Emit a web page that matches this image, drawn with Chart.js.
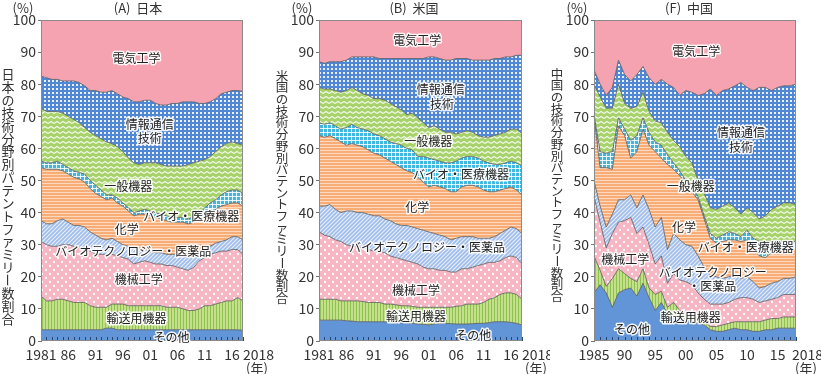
<!DOCTYPE html>
<html><head><meta charset="utf-8">
<script src="https://cdn.jsdelivr.net/npm/chart.js@4"></script>
<style>
html,body{margin:0;padding:0;background:#fff;}
#wrap{position:relative;width:821px;height:374px;overflow:hidden;}
canvas{position:absolute;top:0;}
</style></head><body>
<div id="wrap">
<canvas id="cA" width="275" height="374" style="left:0"></canvas>
<canvas id="cB" width="275" height="374" style="left:275px"></canvas>
<canvas id="cF" width="271" height="374" style="left:550px"></canvas>
</div>
<script>
const FONT = '"Noto Sans CJK JP", "Noto Sans", sans-serif';
const seriesNames = ['その他','輸送用機器','機械工学','バイオテクノロジー・医薬品','化学','バイオ・医療機器','一般機器','情報通信技術','電気工学'];

// ---- (A) Japan 1981-2018 ----
const yearsJP = [1981,1982,1983,1984,1985,1986,1987,1988,1989,1990,1991,1992,1993,1994,1995,1996,1997,1998,1999,2000,2001,2002,2003,2004,2005,2006,2007,2008,2009,2010,2011,2012,2013,2014,2015,2016,2017,2018];
const jpOther     = [3.5,3.5,3.5,3.5,3.5,3.5,3.5,3.5,3.5,3.5,3.5,3.5,4,4,3.5,3.5,3.5,3.5,3.5,3.5,3.5,3.5,3.5,3.5,3.5,3.5,3.5,3.5,3.5,3.5,3.5,3.5,3.5,3.5,3.5,3.5,3.5,3.3];
const jpTransport = [10.5,9,9,9.5,9.5,9,8.5,8.5,8.5,7.5,7,7,6.5,7.5,8,8,7.5,7.5,7.5,7.5,7.5,7.5,7.5,7,7,7,6.5,6,6,6.5,7.5,7.5,8,8.5,9,9,10,9.2];
const jpMech      = [17,17.5,17,16.5,17,17.5,17.5,17,17,17,16.5,16.5,16.5,15.5,15,14.5,14.5,13,13.5,14,13.5,13,13,13,13,12.5,12.5,12.5,13.5,15,15,16,16,16,15.5,16,15,14.5];
const jpBiotech   = [6.5,6.5,7,8,8,7,6.5,7,6.5,6,6,5,4.5,5,4.5,4,4,5,4,3.5,3.5,3.5,3.5,3.5,3.5,4,4,4,4,3,3,2.5,3,3,3.5,4,4,4.5];
const jpChem      = [16.5,17,17,16,15,15,15,14.5,14,13.5,13,13,12.5,12.5,12,12,11,10,11,11,11,11,10.5,10.5,10,10,10.5,10.5,10,10,10,10.5,10.5,11,11,10.5,10.5,10.5];
const jpMedDev    = [2,2,2,2.5,2,2,2,2,2.5,2.5,2.5,2,1.5,1,1.5,1,1,1,1,1.5,1.5,1.5,1.5,1.5,1.5,1.5,1.5,1.5,2,2,2.5,3,3,3.5,4,4,4,4];
const jpGenMach   = [16.5,16,16,15.5,16,16,16,15.5,14.5,15,15.5,16,16.5,16,16,16,15.5,15.5,14.5,14.5,15,15.5,15.5,15.5,16,16,16,17,16.5,16,15,14.5,15,15,15,15,14.5,15];
const jpICT       = [10,10.5,10,10,10,11,12,12.5,13,13,14,14.5,15.5,16.5,16.5,17,18.5,19,19.5,19.5,19.5,18.5,18.5,19,19.5,19.5,20,19.5,19,18,17.5,17,16.5,16.5,16,16,16.5,16.8];
const jpElec      = [17.5,18,18.5,18.5,19,19,19,19.5,20.5,22,22,22.5,22.5,22,23,24,24.5,25.5,25.5,25,25,26,26.5,26.5,26,26,25.5,25.5,25.5,26,26,25.5,24.5,23,22.5,22,22,22.2];

// ---- (B) USA 1981-2018 ----
const yearsUS = [1981,1982,1983,1984,1985,1986,1987,1988,1989,1990,1991,1992,1993,1994,1995,1996,1997,1998,1999,2000,2001,2002,2003,2004,2005,2006,2007,2008,2009,2010,2011,2012,2013,2014,2015,2016,2017,2018];
const usOther     = [6.5,6.5,6.5,6.5,6.5,6.3,6.2,6,6,6,6,6,6,5.8,5.8,5.7,5.6,5.5,5.3,5.2,5,5.3,5.5,5.5,5.4,5.3,5.3,5.3,5.4,5.5,5.5,5.7,6,6,6,5.8,5.5,5];
const usTransport = [6.5,6.5,6.5,6.5,6,6.2,6.3,6.5,6.3,6,6,6,5.5,5.7,5.5,5.3,5.4,5.3,5.2,5.3,5.5,5.2,5,5,5.1,5.5,5.7,6.2,6.1,6,6.5,7.3,7.5,8.5,9,9.2,9,8];
const usMech      = [21,20,19.5,18.5,18.5,17.5,17,17,16.7,16.5,16,16,16,15,14.7,14.5,14,13.7,13.5,12.5,12,12,11.5,11.5,11,10.7,11.5,11,11.5,12,12,11.5,11,10.5,11,11.5,11.5,11];
const usBiotech   = [8,9,10,9.5,9,10.5,11,10.5,11,11,11,11,10.5,11,10.5,10.5,11,11,11,11.5,11.5,11,11,10.5,10,10.5,10,10,9.5,8.5,8,7.5,8,8.5,8.5,9,9,9.5];
const usChem      = [22,21.5,21.5,22,22,20.5,21,21,20.5,20,19.5,19,19,18.5,18.5,18,17,17,16,15,14,15,15,15,15,14.5,15.5,16,16,16,15,14.5,14,13.5,13,12.5,12,12];
const usMedDev    = [4,4,4,4,4,5.5,6,5.5,5.5,6,6,6,6,6,6.5,7,7,7,6.5,8,9,8,8,8,9,9.5,9,9,9,9,9,9,8.5,8,8,8,8.5,9];
const usGenMach   = [11,11,10.5,11,11.5,11.5,11.5,11.5,11,11,11,11.5,12,12,11.5,11,10.5,11.5,12,10.5,9.5,10.5,10,9.5,9.5,8.5,8,8,7.5,7,7.5,8,9,9.5,9.5,10,10.5,10];
const usICT       = [8,8,8.5,9,9.5,9.5,9.5,10.5,11.5,12,13,12.5,13,14,15,16,17.5,17,18.5,20,22,21.5,22,22.5,22.5,23.5,23,22.5,22.5,23.5,24,24,24,23.5,23.5,22.5,23,24.5];
const usElec      = [13,13.5,13,13,13,12.5,11.5,11.5,11.5,11.5,11.5,12,12,12,12,12,12,12,12,12,11.5,11.5,12,12.5,12.5,12,12,12,12.5,12.5,12.5,12.5,12,12,11.5,11.5,11,11];

// ---- (F) China 1985-2018 ----
const yearsCN = [1985,1986,1987,1988,1989,1990,1991,1992,1993,1994,1995,1996,1997,1998,1999,2000,2001,2002,2003,2004,2005,2006,2007,2008,2009,2010,2011,2012,2013,2014,2015,2016,2017,2018];
const cnOther     = [15,17.5,15,10.5,15,16,16.5,14,18,13.5,9.5,12,8.5,7.5,7,6.5,6,5.5,5,3.5,3,3,3.5,4,3.5,3.5,3,3,3.5,3.5,4,4,4,4];
const cnTransport = [11.5,4.5,2,9,7.5,5,3,4.5,4.5,3,5,3.5,2,4.5,2.5,1.5,1.5,1.5,1,1,1.5,2,2,2,2.5,2.5,3,3,3,3.5,3,3.5,3.5,3.5];
const cnMech      = [18.5,15,12,14,14.5,16.5,19,15,13,13.5,9.5,11,7.5,9,9.5,10.5,10,8,7,7,7,6.5,6.5,7,7.5,7.5,7,6,6,6,6.5,7,7,7];
const cnBiotech   = [5,5,6.5,6,7,6.5,7,8,10,11,11.5,12,10.5,12.5,12.5,11.5,12,11.5,10,9,8.5,8,8,7.5,6,6.5,5.5,4.5,4.5,5,5,5,5,5.5];
const cnChem      = [20,12,18.5,14,23,20,11.5,17.5,20.5,20,23.5,18.5,26.5,20,20,19,17,17.5,15,11.5,10.5,11.5,11.5,11,11.5,11.5,10.5,10,9,9.5,9.5,9,9,8.5];
const cnMedDev    = [0.5,5,4.5,5.5,2.5,2,5.5,5,3.5,4,3,4,3,2,1.5,1,1.5,1,1,1.5,1.5,2,2.5,2,1.5,3,3,4.5,5,3.5,3,2.5,2.5,2.5];
const cnGenMach   = [9.5,17,14,13.5,10.5,8,10,9,8,6.5,6.5,7,7,7,7.5,7.5,7.5,5,7,8,9,9,9,8,7,7,8,7,8,10,11,12,12,11.5];
const cnICT       = [4.5,4,4,6.5,7.5,9,8.5,10,8,10.5,11.5,13.5,15,16.5,16,20.5,22,26.5,31,37,35.5,36,35.5,38,41,37.5,38,41,40,37,37,36.5,36.5,37.5];
const cnElec      = [15.5,20,23.5,21,12.5,17,19,17,14.5,18,20,18.5,20,21,23.5,22,22.5,23.5,23,21.5,23.5,22,21.5,20.5,19.5,21,22,21,21,22,21,20.5,20.5,20];

// ---- tick labels ----
const tickYearsJP  = [1981,1986,1991,1996,2001,2006,2011,2016,2018];
const tickLabelsJP = ['1981','86','91','96','01','06','11','16','2018'];
const tickYearsCN  = [1985,1990,1995,2000,2005,2010,2015,2018];
const tickLabelsCN = ['1985','90','95','00','05','10','15','2018'];

// ---- in-chart label anchors [text, year, value] ----
const labelsJP = [['電気工学',1998.5,87.9],['情報通信',2000.9,67.6],['技術',2000.9,63.2],['一般機器',1997.0,48.3],['バイオ・医療機器',2008.5,38.9],['化学',1996.7,34.9],['バイオテクノロジー・医薬品',1997.9,28.0],['機械工学',1998.9,19.3],['輸送用機器',1998.5,6.9],['その他',2004.9,1.2]];
const labelsUS = [['電気工学',1998.9,93.5],['情報通信',2003.2,78.5],['技術',2003.4,73.8],['一般機器',2000.9,62.3],['バイオ・医療機器',2006.9,52.0],['化学',1998.9,41.7],['バイオテクノロジー・医薬品',2000.7,29.0],['機械工学',1998.7,15.6],['輸送用機器',1998.7,7.8],['その他',2009.1,1.6]];
const labelsCN = [['電気工学',2001.7,90.3],['情報通信',2009.0,65.1],['技術',2009.0,60.4],['一般機器',2000.8,48.3],['化学',1999.7,35.5],['バイオ・医療機器',2009.8,29.3],['機械工学',1990.1,25.5],['バイオテクノロジー',2004.4,21.5],['・医薬品',2004.3,17.1],['輸送用機器',2000.8,7.2],['その他',1991.2,3.7]];

// ---- fills (patterns) ----
function tile(w,h,bg,fn){
  const c=document.createElement('canvas'); c.width=w; c.height=h;
  const g=c.getContext('2d'); g.fillStyle=bg; g.fillRect(0,0,w,h); if(fn) fn(g);
  return document.createElement('canvas').getContext('2d').createPattern(c,'repeat');
}
const fills = [
  '#6295d7',
  tile(3,2,'#c3e08a',g=>{g.fillStyle='#90c050';g.fillRect(0,0,1,2);}),
  tile(8,8,'#f7b6c3',g=>{g.fillStyle='#ffffff';[[2,2],[6,6]].forEach(([a,b])=>{g.beginPath();g.arc(a,b,1.15,0,7);g.fill();});}),
  tile(4,4,'#a0bdeb',g=>{g.strokeStyle='#e8effb';g.lineWidth=1.1;g.beginPath();g.moveTo(-1,5);g.lineTo(5,-1);g.moveTo(-1,1);g.lineTo(1,-1);g.moveTo(3,5);g.lineTo(5,3);g.stroke();}),
  tile(2,3,'#f8ad77',g=>{g.fillStyle='#fcd8be';g.fillRect(0,0,2,1);}),
  tile(4,4,'#43b6dd',g=>{g.fillStyle='rgba(255,255,255,0.85)';g.fillRect(0,0,4,1);g.fillRect(0,0,1,4);}),
  tile(6,5,'#a7d26b',g=>{g.strokeStyle='#f2f9e8';g.lineWidth=1.1;g.beginPath();g.moveTo(0,3.5);g.lineTo(3,1.5);g.lineTo(6,3.5);g.stroke();}),
  tile(4,4,'#5088d5',g=>{g.fillStyle='#eaf1fb';g.fillRect(0,0,2,2);}),
  '#f5a3b0'
];

function halo(ctx,t,x,y){
  ctx.lineJoin='round'; ctx.lineWidth=3; ctx.strokeStyle='rgba(255,255,255,0.9)';
  ctx.strokeText(t,x,y); ctx.fillStyle='#222'; ctx.fillText(t,x,y);
}
function vText(ctx,t,x,y0,step,size){
  ctx.font=size+'px '+FONT; ctx.fillStyle='#333'; ctx.textAlign='center'; ctx.textBaseline='middle';
  [...t].forEach((ch,i)=>{
    const cy=y0+step*(i+0.5);
    if(ch==='ー'){ctx.save();ctx.translate(x,cy);ctx.rotate(Math.PI/2);ctx.fillText(ch,0,0);ctx.restore();}
    else ctx.fillText(ch,x,cy);
  });
}

function makeDeco(cfg){
  return {id:'deco', afterDraw(chart){
    const ctx=chart.ctx, a=chart.chartArea, xs=chart.scales.x, ys=chart.scales.y;
    const xp=yr=>xs.getPixelForValue(yr-cfg.years[0]);
    ctx.save();
    // inward minor ticks each year
    ctx.strokeStyle='#2a4470'; ctx.lineWidth=1; ctx.beginPath();
    cfg.years.forEach((yr,i)=>{const px=Math.round(xs.getPixelForValue(i))+0.5; ctx.moveTo(px,a.bottom); ctx.lineTo(px,a.bottom-4);});
    ctx.stroke();
    // plot frame
    ctx.strokeStyle='#8a8a8a'; ctx.lineWidth=1;
    ctx.strokeRect(a.left+0.5,a.top+0.5,a.right-a.left-1,a.bottom-a.top-1);
    // series labels
    ctx.font='12px '+FONT; ctx.textAlign='center'; ctx.textBaseline='middle';
    cfg.labels.forEach(([t,yr,v])=>halo(ctx,t,xp(yr),ys.getPixelForValue(v)));
    // x labels
    ctx.font='14px '+FONT; ctx.fillStyle='#333'; ctx.textBaseline='middle';
    cfg.tickYears.forEach((yr,i)=>{
      const last=i===cfg.tickYears.length-1;
      ctx.textAlign=last?'left':'center';
      ctx.fillText(cfg.tickLabels[i], xp(yr)+(last?cfg.lastDx:0), a.bottom+14);
    });
    ctx.font='13px '+FONT; ctx.textAlign='center';
    ctx.fillText('(年)', a.right+cfg.nenDx, a.bottom+27);
    // title & unit
    ctx.fillText(cfg.title, cfg.titleX, 8);
    ctx.fillText('(%)', cfg.pctX, 8);
    vText(ctx,cfg.ytitle,cfg.vx,cfg.vy0,cfg.vstep,cfg.vsize);
    ctx.restore();
  }};
}

function makeChart(id,cfg){
  const datasets=cfg.series.map((vals,i)=>({
    label:seriesNames[i], data:vals, backgroundColor:fills[i],
    borderColor:'#5a5a5a', borderWidth:0.8, pointRadius:0, tension:0,
    fill:i===0?'origin':'-1'
  }));
  return new Chart(document.getElementById(id),{
    type:'line',
    data:{labels:cfg.years, datasets},
    options:{
      responsive:false, animation:false,
      layout:{padding:{top:20,right:cfg.padRight,left:0,bottom:0}},
      plugins:{legend:{display:false},tooltip:{enabled:false}},
      scales:{
        x:{type:'category',offset:false,ticks:{display:false},grid:{display:false},border:{display:false},afterFit(s){s.height=33;}},
        y:{stacked:true,min:0,max:100,
           ticks:{stepSize:10,font:{family:FONT,size:14},color:'#333',padding:2},
           grid:{drawOnChartArea:false,tickLength:3,color:'#777'},
           border:{color:'#777'},
           afterFit(s){s.width=cfg.yWidth;}}
      }
    },
    plugins:[makeDeco(cfg)]
  });
}

makeChart('cA',{years:yearsJP,series:[jpOther,jpTransport,jpMech,jpBiotech,jpChem,jpMedDev,jpGenMach,jpICT,jpElec],
  labels:labelsJP,tickYears:tickYearsJP,tickLabels:tickLabelsJP,padRight:32,yWidth:41,lastDx:0,nenDx:14,
  title:'(A)  日本',titleX:138,pctX:23,ytitle:'日本の技術分野別パテントファミリー数割合',vx:8,vy0:68,vstep:12.85,vsize:13});
makeChart('cB',{years:yearsUS,series:[usOther,usTransport,usMech,usBiotech,usChem,usMedDev,usGenMach,usICT,usElec],
  labels:labelsUS,tickYears:tickYearsJP,tickLabels:tickLabelsJP,padRight:28,yWidth:44,lastDx:0,nenDx:14,
  title:'(B)  米国',titleX:139,pctX:27,ytitle:'米国の技術分野別パテントファミリー数割合',vx:7,vy0:70,vstep:11.7,vsize:12.5});
makeChart('cF',{years:yearsCN,series:[cnOther,cnTransport,cnMech,cnBiotech,cnChem,cnMedDev,cnGenMach,cnICT,cnElec],
  labels:labelsCN,tickYears:tickYearsCN,tickLabels:tickLabelsCN,padRight:25,yWidth:44,lastDx:-4,nenDx:10,
  title:'(F)  中国',titleX:139,pctX:27,ytitle:'中国の技術分野別パテントファミリー数割合',vx:7,vy0:68,vstep:11.7,vsize:12.5});
</script>
</body></html>
